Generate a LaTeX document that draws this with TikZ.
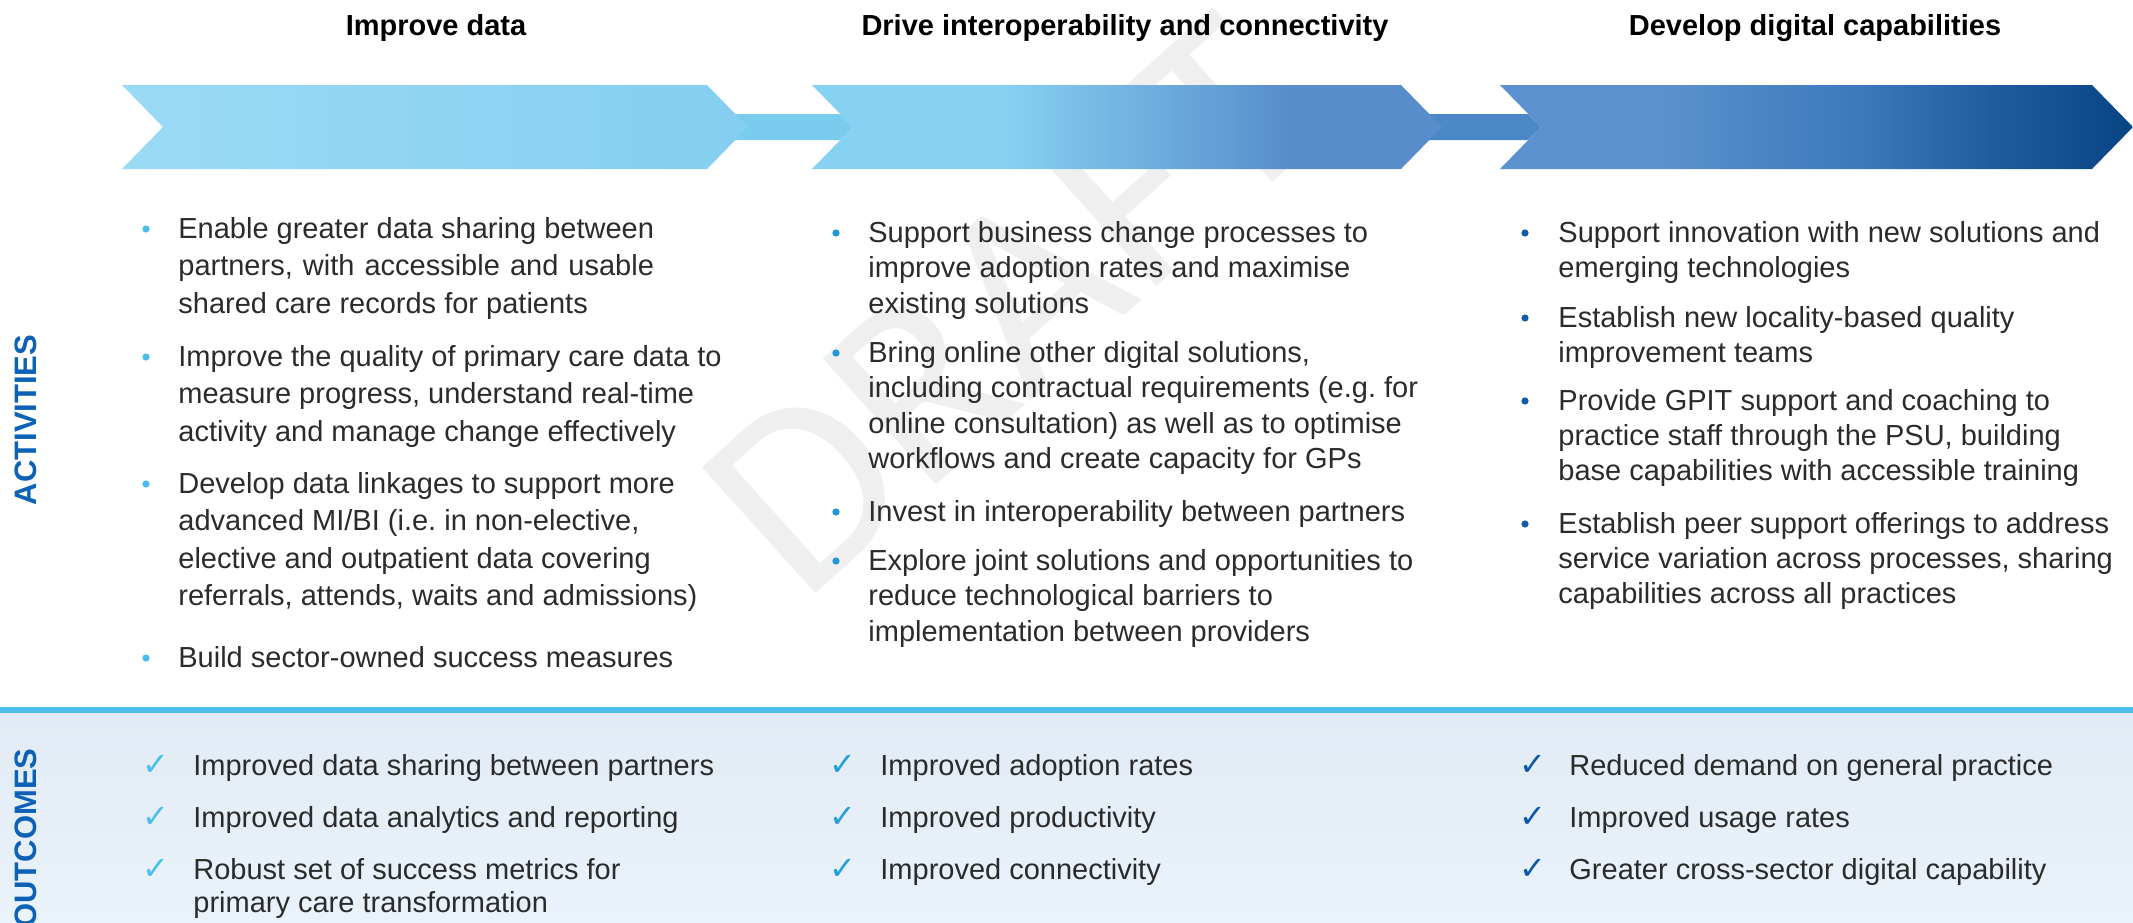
\documentclass[tikz,border=0pt]{standalone}
\usepackage{fontspec}
\setmainfont{Liberation Sans}
\newfontfamily\checkfont{DejaVu Sans}
\newfontfamily\markfont{Carlito}
\usetikzlibrary{calc}
\frenchspacing

% spread the words of #2 over the width of #1
\newcommand\spreadline[2]{\setbox0\hbox{#1}\makebox[\wd0][s]{#2}}

% palette
\definecolor{bodytext}{HTML}{2B2B2B}
\definecolor{sidelabel}{HTML}{0E62B5}
\definecolor{bulA}{HTML}{4DBBEA}
\definecolor{bulB}{HTML}{1E98D8}
\definecolor{bulC}{HTML}{0F5CAF}
\definecolor{chkA}{HTML}{4DBDEB}
\definecolor{chkB}{HTML}{22A0DC}
\definecolor{chkC}{HTML}{0B58AC}
\definecolor{cA1}{HTML}{9BDAF5}
\definecolor{cA2}{HTML}{84CEF1}
\definecolor{cB1}{HTML}{87D1F2}
\definecolor{cB2}{HTML}{578DCB}
\definecolor{cC1}{HTML}{5B91CE}
\definecolor{cC2}{HTML}{3D79BC}
\definecolor{cC3}{HTML}{1D5A9D}
\definecolor{cC4}{HTML}{084484}
\definecolor{linkA}{HTML}{7ACCEE}
\definecolor{linkB}{HTML}{4A88C7}
\definecolor{bandtop}{HTML}{E2EBF5}
\definecolor{bandbot}{HTML}{EAF3FA}
\definecolor{bandline}{HTML}{4FBEEC}
\definecolor{watermark}{HTML}{EFEFEF}

% left-to-right fills of the three arrows
\pgfdeclarehorizontalshading{chevA}{100bp}{color(0bp)=(cA1); color(25bp)=(cA1); color(75bp)=(cA2); color(100bp)=(cA2)}
\pgfdeclarehorizontalshading{chevB}{100bp}{color(0bp)=(cB1); color(40bp)=(cB1); color(63bp)=(cB2); color(100bp)=(cB2)}
\pgfdeclarehorizontalshading{chevC}{100bp}{color(0bp)=(cC1); color(38bp)=(cC1); color(53bp)=(cC2); color(65bp)=(cC3); color(75bp)=(cC4); color(100bp)=(cC4)}

\begin{document}
\begin{tikzpicture}[x=0.5pt, y=-0.5pt,
  title/.style={anchor=base, inner sep=0pt, font=\bfseries\fontsize{14.5}{17}\selectfont, text=black},
  colA/.style={anchor=north west, inner sep=0pt, align=left, text=bodytext,
    font=\fontsize{14.5}{18.75}\selectfont, yshift=13.125pt},
  colB/.style={anchor=north west, inner sep=0pt, align=left, text=bodytext,
    font=\fontsize{14.5}{17.7}\selectfont, yshift=12.39pt},
  colC/.style={anchor=north west, inner sep=0pt, align=left, text=bodytext,
    font=\fontsize{14.5}{17.4}\selectfont, yshift=12.18pt},
  outc/.style={anchor=north west, inner sep=0pt, align=left, text=bodytext,
    font=\fontsize{14.5}{16.5}\selectfont, yshift=11.55pt},
  dot/.style={circle, inner sep=0pt, minimum size=3.6pt},
  tick/.style={anchor=base, inner sep=0pt, font=\checkfont\fontsize{16}{16}\selectfont},
  side/.style={rotate=90, inner sep=0pt, font=\bfseries\fontsize{15.5}{17}\selectfont, text=sidelabel},
  stamp/.style={anchor=base west, rotate=42, inner sep=0pt, text=watermark,
    font=\markfont\fontsize{132}{132}\selectfont}
]
\useasboundingbox (0,0) rectangle (2133,922);
\fill[white] (0,0) rectangle (2133,922);

% faint stamp behind everything
\node[stamp] (wm) at (802,606) {DRAFT};

% outcomes band
\shade[top color=bandtop, bottom color=bandbot] (0,712) rectangle (2133,922);
\fill[bandline] (0,707) rectangle (2133,713);

% arrow key points
\coordinate (tipA) at (748,127);
\coordinate (notchB) at (853,127);
\coordinate (tipB) at (1442,127);
\coordinate (notchC) at (1541,127);

% links between the arrows
\fill[linkA] ($(tipA)+(-18,-13)$) -- ($(notchB)+(-13,-13)$) -- (notchB)
  -- ($(notchB)+(-13,13)$) -- ($(tipA)+(-18,13)$) -- cycle;
\fill[linkB] ($(tipB)+(-18,-13)$) -- ($(notchC)+(-13,-13)$) -- (notchC)
  -- ($(notchC)+(-13,13)$) -- ($(tipB)+(-18,13)$) -- cycle;

% the three arrows
\shade[shading=chevA] (122,85) -- (707,85) -- (tipA) -- (707,169) -- (122,169) -- (163,127) -- cycle;
\shade[shading=chevB] (812,85) -- (1401,85) -- (tipB) -- (1401,169) -- (812,169) -- (notchB) -- cycle;
\shade[shading=chevC] (1500,85) -- (2092,85) -- (2133,127) -- (2092,169) -- (1500,169) -- (notchC) -- cycle;

% headings
\node[title] (t1) at (436,35) {Improve data};
\node[title] (t2) at (1125,35) {Drive interoperability and connectivity};
\node[title] (t3) at (1815,35) {Develop digital capabilities};

% side labels
\node[side] (act) at (26,420) {ACTIVITIES};
\node[side] (out) at (26,838) {OUTCOMES};

% activities, first column
\node[dot, fill=bulA] (ba1) at (146,229) {};
\node[colA] (a1) at (178,238) {\strut Enable greater data sharing between\\\spreadline{Enable greater data sharing between}{partners, with accessible and usable}\\shared care records for patients};
\node[dot, fill=bulA] (ba2) at (146,357) {};
\node[colA] (a2) at (178,366) {\strut Improve the quality of primary care data to\\measure progress, understand real-time\\activity and manage change effectively};
\node[dot, fill=bulA] (ba3) at (146,484) {};
\node[colA] (a3) at (178,493) {\strut Develop data linkages to support more\\advanced MI/BI (i.e. in non-elective,\\elective and outpatient data covering\\referrals, attends, waits and admissions)};
\node[dot, fill=bulA] (ba4) at (146,658) {};
\node[colA] (a4) at (178,667) {\strut Build sector-owned success measures};

% activities, second column
\node[dot, fill=bulB] (bb1) at (836,233) {};
\node[colB] (b1) at (868,242) {\strut Support business change processes to\\improve adoption rates and maximise\\existing solutions};
\node[dot, fill=bulB] (bb2) at (836,353) {};
\node[colB] (b2) at (868,362) {\strut Bring online other digital solutions,\\including contractual requirements (e.g. for\\online consultation) as well as to optimise\\workflows and create capacity for GPs};
\node[dot, fill=bulB] (bb3) at (836,512) {};
\node[colB] (b3) at (868,521) {\strut Invest in interoperability between partners};
\node[dot, fill=bulB] (bb4) at (836,561) {};
\node[colB] (b4) at (868,570) {\strut Explore joint solutions and opportunities to\\reduce technological barriers to\\implementation between providers};

% activities, third column
\node[dot, fill=bulC] (bc1) at (1525,233) {};
\node[colC] (c1) at (1558,242) {\strut Support innovation with new solutions and\\emerging technologies};
\node[dot, fill=bulC] (bc2) at (1525,318) {};
\node[colC] (c2) at (1558,327) {\strut Establish new locality-based quality\\improvement teams};
\node[dot, fill=bulC] (bc3) at (1525,401) {};
\node[colC] (c3) at (1558,410) {\strut Provide GPIT support and coaching to\\practice staff through the PSU, building\\base capabilities with accessible training};
\node[dot, fill=bulC] (bc4) at (1525,524) {};
\node[colC] (c4) at (1558,533) {\strut Establish peer support offerings to address\\service variation across processes, sharing\\capabilities across all practices};

% outcomes
\node[tick, text=chkA] (ka1) at (156,775) {✓};
\node[outc] (oa1) at (193,775) {\strut Improved data sharing between partners};
\node[tick, text=chkA] (ka2) at (156,827) {✓};
\node[outc] (oa2) at (193,827) {\strut Improved data analytics and reporting};
\node[tick, text=chkA] (ka3) at (156,879) {✓};
\node[outc] (oa3) at (193,879) {\strut Robust set of success metrics for\\primary care transformation};

\node[tick, text=chkB] (kb1) at (843,775) {✓};
\node[outc] (ob1) at (880,775) {\strut Improved adoption rates};
\node[tick, text=chkB] (kb2) at (843,827) {✓};
\node[outc] (ob2) at (880,827) {\strut Improved productivity};
\node[tick, text=chkB] (kb3) at (843,879) {✓};
\node[outc] (ob3) at (880,879) {\strut Improved connectivity};

\node[tick, text=chkC] (kc1) at (1533,775) {✓};
\node[outc] (oc1) at (1569,775) {\strut Reduced demand on general practice};
\node[tick, text=chkC] (kc2) at (1533,827) {✓};
\node[outc] (oc2) at (1569,827) {\strut Improved usage rates};
\node[tick, text=chkC] (kc3) at (1533,879) {✓};
\node[outc] (oc3) at (1569,879) {\strut Greater cross-sector digital capability};
\end{tikzpicture}
\end{document}
